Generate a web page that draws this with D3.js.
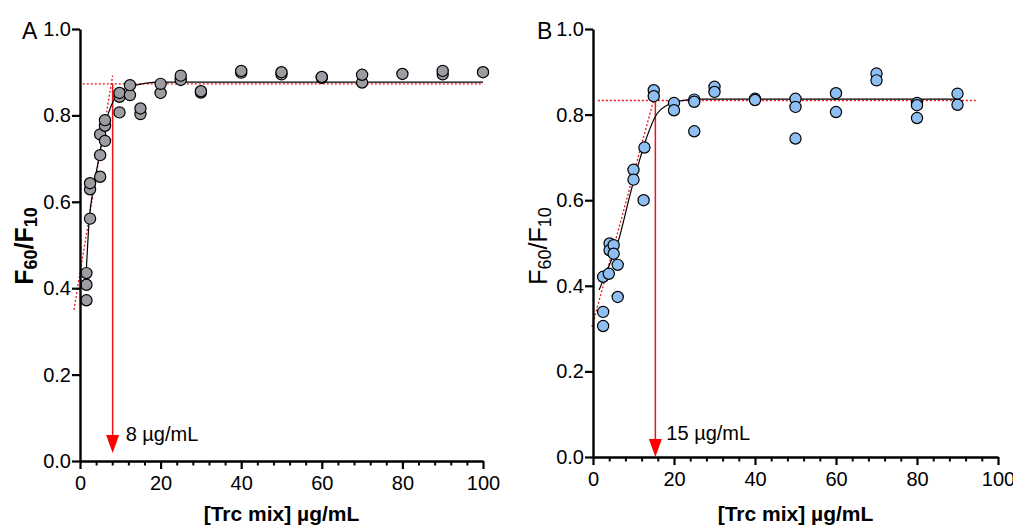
<!DOCTYPE html>
<html><head><meta charset="utf-8">
<script src="https://cdn.jsdelivr.net/npm/d3@7"></script>
<style>body{margin:0;background:#fff}svg{display:block}text{font-family:"Liberation Sans",Arial,sans-serif}</style>
</head><body><svg id="c" width="1013" height="527"></svg>
<script>
// Panel A data
const aX = [1.6,1.6,1.6, 2.5,2.5,2.5, 5,5,5, 6.2,6.2,6.2, 9.8,9.8,9.8, 12.4,12.4, 15,15, 20,20, 25,25, 30,30, 40,40, 50,50, 60,60, 70,70, 80, 90,90, 100];
const aY = [0.372,0.408,0.435, 0.561,0.629,0.643, 0.658,0.708,0.756, 0.741,0.776,0.789, 0.807,0.843,0.852, 0.847,0.870, 0.803,0.816, 0.852,0.873, 0.882,0.892, 0.853,0.856, 0.899,0.903, 0.895,0.900, 0.887,0.889, 0.876,0.894, 0.896, 0.895,0.903, 0.900];
const aFitX = [1.5,2.3,3.3,4.8,6.2,8.3,10.3,13,16,20,100];
const aFitY = [0.43,0.56,0.63,0.706,0.776,0.834,0.856,0.868,0.874,0.877,0.877];
const aPlateau = 0.873, aSlope = [[-1.5,0.35],[8.1,0.892]], aThreshold = 8.1, aLabel = "8 \u00b5g/mL";

// Panel B data
const bX = [2.5,2.5,2.5, 3.9,4.1,4.1, 5.1,5.1, 6.1,6.1, 10,10, 12.5,12.7, 15,15, 20,20, 25,25,25, 30,30, 40,40, 50,50,50, 60,60, 70,70, 80,80,80, 90,90];
const bY = [0.306,0.339,0.421, 0.428,0.499,0.483, 0.495,0.475, 0.449,0.374, 0.671,0.648, 0.600,0.723, 0.857,0.843, 0.827,0.810, 0.835,0.830,0.761, 0.865,0.853, 0.837,0.834, 0.837,0.818,0.744, 0.850,0.806, 0.896,0.880, 0.827,0.822,0.792, 0.849,0.823];
const bFitX = [1.5,3.5,6.3,9.2,11.7,13.3,15.8,18.3,21.6,26,90];
const bFitY = [0.39,0.436,0.506,0.615,0.70,0.748,0.802,0.822,0.832,0.836,0.836];
const bPlateau = 0.833, bSlope = [[-0.25,0.304],[15.3,0.845]], bThreshold = 15.4, bLabel = "15 \u00b5g/mL";

const yTicks = [0, 0.2, 0.4, 0.6, 0.8, 1.0];
const xTicks = [0, 20, 40, 60, 80, 100];

const svg = d3.select("#c");

function panel(o) {
  const x = d3.scaleLinear().domain([0,100]).range(o.xr);
  const y = d3.scaleLinear().domain([0,1]).range(o.yr);
  const g = svg.append("g");

  // red dotted lines
  g.append("line").attr("x1", x(o.hStart)).attr("x2", x(o.hEnd)).attr("y1", y(o.plateau)).attr("y2", y(o.plateau))
    .attr("stroke","#e8141a").attr("stroke-width",1.3).attr("stroke-dasharray","2,2");
  g.append("line").attr("x1", x(o.slope[0][0])).attr("y1", y(o.slope[0][1])).attr("x2", x(o.slope[1][0])).attr("y2", y(o.slope[1][1]))
    .attr("stroke","#e8141a").attr("stroke-width",1.3).attr("stroke-dasharray","2,2");
  // red vertical arrow
  g.append("line").attr("x1", x(o.thr)).attr("x2", x(o.thr)).attr("y1", y(o.plateau)).attr("y2", y(0)-o.arrowGap-17)
    .attr("stroke","#e8141a").attr("stroke-width",1.5);
  const tipY = y(0)-o.arrowGap;
  g.append("path").attr("d", `M${x(o.thr)-6.5},${tipY-18}L${x(o.thr)+6.5},${tipY-18}L${x(o.thr)},${tipY}Z`).attr("fill","#f00");
  g.append("text").attr("x", x(o.thr)+o.lblDx).attr("y", o.lblY).attr("font-size",20).text(o.label);

  // fit curve
  const line = d3.line().x((d,i)=>x(o.fx[i])).y((d,i)=>y(o.fy[i])).curve(d3.curveMonotoneX);
  g.append("path").datum(o.fx).attr("d", line).attr("fill","none").attr("stroke","#000").attr("stroke-width",1.2);

  // points
  g.selectAll("circle.p").data(o.px).enter().append("circle")
    .attr("cx",(d)=>x(d)).attr("cy",(d,i)=>y(o.py[i])).attr("r",5.6)
    .attr("fill",o.fill).attr("stroke","#000").attr("stroke-width",1.2);

  // axes
  const yAxis = d3.axisLeft(y).tickValues(yTicks).tickFormat(d3.format(".1f")).tickSize(8).tickSizeOuter(0);
  const ya = g.append("g").attr("transform",`translate(${o.xr[0]},0)`).call(yAxis);
  ya.select(".domain").attr("stroke-width",2.4);
  ya.selectAll(".tick line").attr("stroke-width",2.2);
  ya.selectAll(".tick text").attr("font-size",20).attr("font-family","Liberation Sans, Arial").attr("fill","#000").attr("x",-9);

  const minor = d3.range(0,101,4).filter(v=>v%20!==0);
  g.append("g").attr("transform",`translate(0,${o.yr[0]})`)
    .call(d3.axisBottom(x).tickValues(minor).tickSize(4.5).tickFormat(""))
    .call(s=>{s.select(".domain").remove(); s.selectAll(".tick line").attr("stroke-width",2);});
  const xa = g.append("g").attr("transform",`translate(0,${o.yr[0]})`)
    .call(d3.axisBottom(x).tickValues(xTicks).tickSize(8).tickSizeOuter(0));
  xa.select(".domain").attr("stroke-width",2.4);
  xa.selectAll(".tick line").attr("stroke-width",2.2);
  xa.selectAll(".tick text").attr("font-size",20).attr("font-family","Liberation Sans, Arial").attr("fill","#000").attr("y",15);

  // titles
  g.append("text").attr("x",(o.xr[0]+o.xr[1])/2).attr("y",o.xtY).attr("text-anchor","middle")
    .attr("font-size",21).attr("font-weight","bold").text("[Trc mix] \u00b5g/mL");
  const yt = g.append("text").attr("transform",`translate(${o.ytX},${o.ytY}) rotate(-90)`).attr("text-anchor","middle")
    .attr("font-size",25).attr("font-weight",o.bold?"bold":"normal");
  yt.append("tspan").text("F");
  yt.append("tspan").attr("font-size",18).attr("dy",4).text("60");
  yt.append("tspan").attr("dy",-4).text("/F");
  yt.append("tspan").attr("font-size",18).attr("dy",4).text("10");
  g.append("text").attr("x",o.letX).attr("y",39).attr("font-size",23).text(o.letter);
}

panel({xr:[80,483], yr:[461,29], px:aX, py:aY, fx:aFitX, fy:aFitY, plateau:aPlateau, hStart:0.7, hEnd:100,
  slope:aSlope, thr:aThreshold, label:aLabel, lblDx:13, lblY:441, arrowGap:8, fill:"#9d9ca2",
  xtY:521, ytX:33, ytY:246, bold:true, letter:"A", letX:22});
panel({xr:[593,998], yr:[457,29], px:bX, py:bY, fx:bFitX, fy:bFitY, plateau:bPlateau, hStart:1.2, hEnd:94.5,
  slope:bSlope, thr:bThreshold, label:bLabel, lblDx:11, lblY:440, arrowGap:0, fill:"#8fbff2",
  xtY:521, ytX:547, ytY:246, bold:false, letter:"B", letX:537});
</script></body></html>
